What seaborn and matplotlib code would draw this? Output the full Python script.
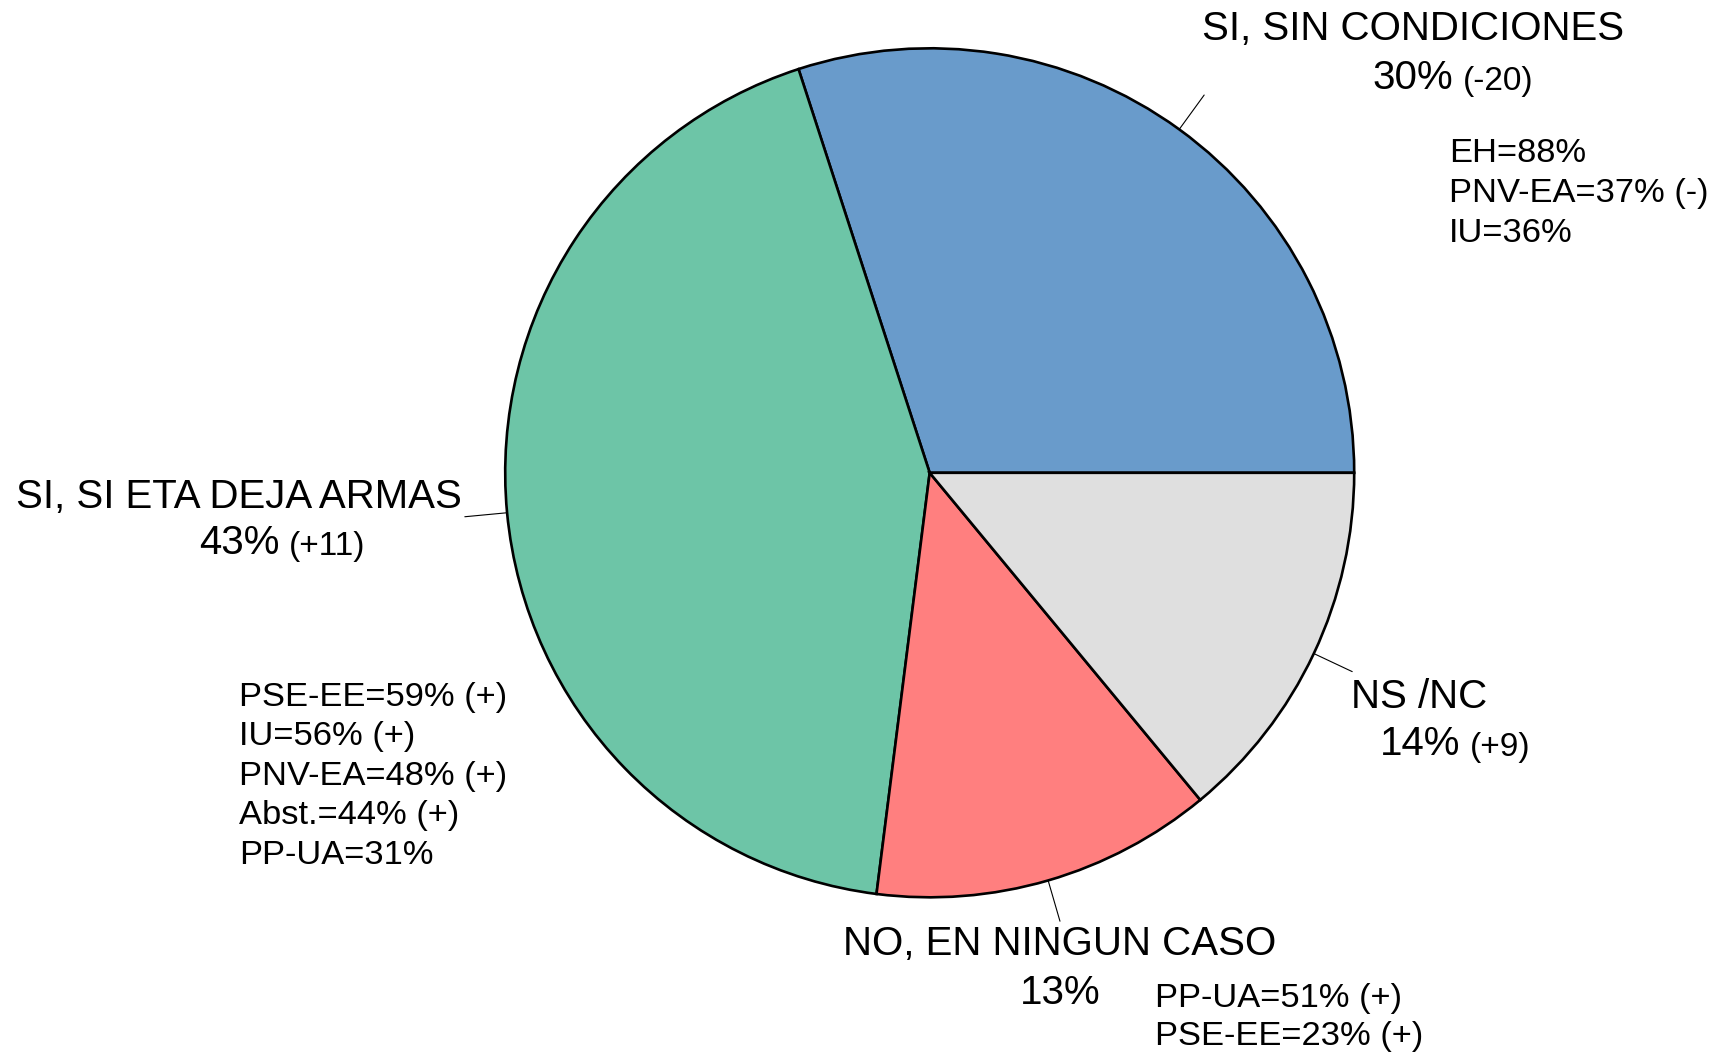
import matplotlib
matplotlib.use("Agg")
import matplotlib.pyplot as plt
import numpy as np
import seaborn as sns

# Survey answers (share of respondents, %) and change vs previous wave
categories = ["SI, SIN CONDICIONES", "SI, SI ETA DEJA ARMAS", "NO, EN NINGUN CASO", "NS /NC"]
shares = [30, 43, 13, 14]
changes = ["(-20)", "(+11)", "", "(+9)"]
colors = ["#699BCB", "#6DC5A7", "#FF7F7F", "#DFDFDF"]

# Party breakdowns shown next to each answer
party_blue = ["EH=88%", "PNV-EA=37% (-)", "IU=36%"]
party_green = ["PSE-EE=59% (+)", "IU=56% (+)", "PNV-EA=48% (+)", "Abst.=44% (+)", "PP-UA=31%"]
party_red = ["PP-UA=51% (+)", "PSE-EE=23% (+)"]

sns.set_theme(style="white")
plt.rcParams["font.family"] = ["Liberation Sans", "DejaVu Sans"]
plt.rcParams["text.color"] = "black"

W, H, DPI = 1720, 1055, 100
fig = plt.figure(figsize=(W / DPI, H / DPI), dpi=DPI)
fig.patch.set_facecolor("white")
ax = fig.add_axes([0, 0, 1, 1])

palette = sns.color_palette(colors)
wedges, _ = ax.pie(shares, colors=palette, startangle=0, counterclock=True,
                   wedgeprops=dict(edgecolor="black", linewidth=1.9))

# frame the pie: centre at (929.7, 472.8) px, radius 424.5 px
cx, cy, R = 929.7, 472.8, 424.5
ax.set_xlim(-cx / R, (W - cx) / R)
ax.set_ylim(-(H - cy) / R, cy / R)
ax.set_aspect("equal", adjustable="box")
ax.axis("off")

# leader lines from the rim along each wedge's mid angle
for w in wedges:
    ang = np.deg2rad((w.theta1 + w.theta2) / 2)
    ax.plot([np.cos(ang), 1.10 * np.cos(ang)], [np.sin(ang), 1.10 * np.sin(ang)],
            color="black", lw=0.8)

BIG, SMALL, LIST = 29, 24, 24.8


def pct_label(x, y, share, change, ha="left"):
    t = ax.text(x, y, f"{share}%", fontsize=BIG, ha=ha, va="center", color="black")
    if change:
        ax.annotate(change, xy=(1, 0), xycoords=t, xytext=(7, 0), textcoords="offset points",
                    fontsize=SMALL, ha="left", va="bottom", color="black")
    return t


def party_list(x, y0, step, lines):
    for i, s in enumerate(lines):
        ax.text(x, y0 - i * step, s, fontsize=LIST, ha="left", va="center", color="black")


# SI, SIN CONDICIONES
ax.text(1.139, 1.045, categories[0], fontsize=BIG, ha="center", va="center", color="black")
pct_label(1.044, 0.929, shares[0], changes[0])
party_list(1.224, 0.752, 0.094, party_blue)

# SI, SI ETA DEJA ARMAS
ax.text(-1.627, -0.058, categories[1], fontsize=BIG, ha="center", va="center", color="black")
pct_label(-1.721, -0.166, shares[1], changes[1])
party_list(-1.627, -0.529, 0.0931, party_green)

# NO, EN NINGUN CASO
ax.text(0.307, -1.111, categories[2], fontsize=BIG, ha="center", va="center", color="black")
pct_label(0.307, -1.226, shares[2], changes[2], ha="center")
party_list(0.531, -1.238, 0.0895, party_red)

# NS /NC
ax.text(0.993, -0.529, categories[3], fontsize=BIG, ha="left", va="center", color="black")
pct_label(1.061, -0.638, shares[3], changes[3])

fig.savefig("out.png", dpi=DPI, facecolor="white")
